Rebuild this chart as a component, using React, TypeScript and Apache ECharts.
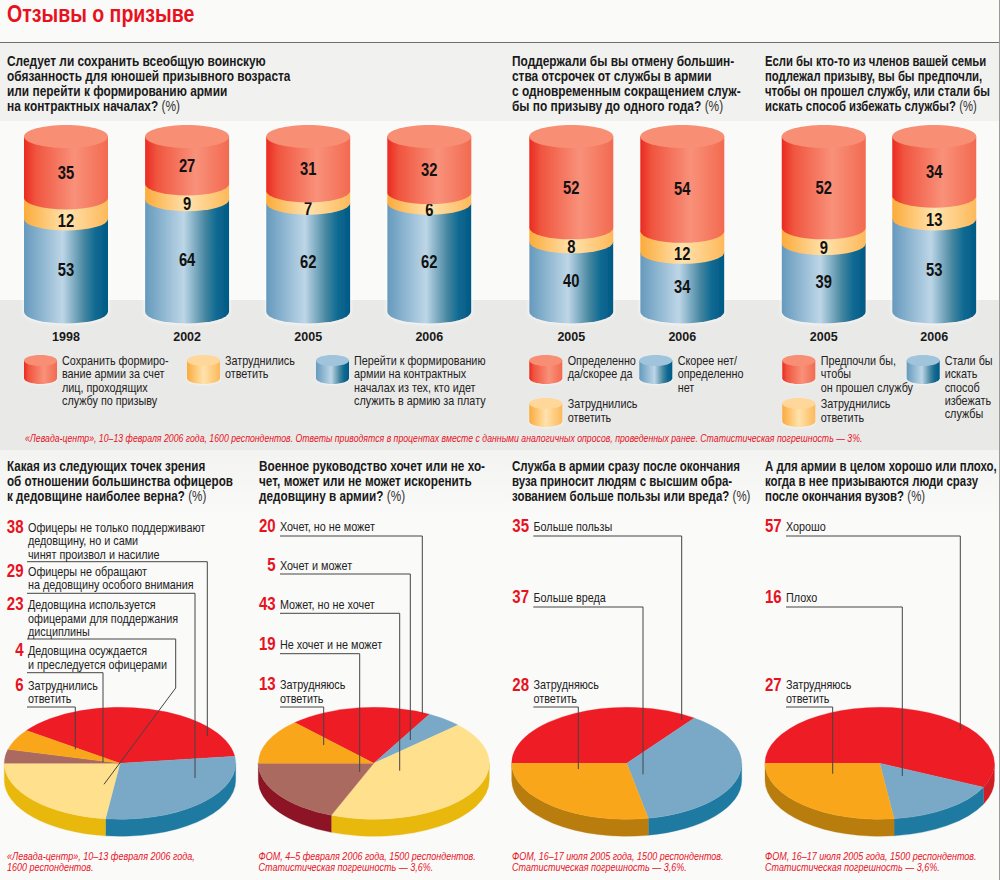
import React, { useEffect, useRef } from "react";
import * as echarts from "echarts";

// ---------- data ----------
const TITLE = "Отзывы о призыве";
const yearsA = ["1998", "2002", "2005", "2006"];
const yearsB = ["2005", "2006"];
const yearsC = ["2005", "2006"];
// [blue, orange, red] per year
const valuesA = [[53, 12, 35], [64, 9, 27], [62, 7, 31], [62, 6, 32]];
const valuesB = [[40, 8, 52], [34, 12, 54]];
const valuesC = [[39, 9, 52], [53, 13, 34]];

const pie1Values = [38, 29, 23, 4, 6];
const pie2Values = [20, 5, 43, 19, 13];
const pie3Values = [35, 37, 28];
const pie4Values = [57, 16, 27];

const pie1Labels = [
  ["Офицеры не только поддерживают", "дедовщину, но и сами", "чинят произвол и насилие"],
  ["Офицеры не обращают", "на дедовщину особого внимания"],
  ["Дедовщина используется", "офицерами для поддержания", "дисциплины"],
  ["Дедовщина осуждается", "и преследуется офицерами"],
  ["Затруднились", "ответить"],
];
const pie2Labels = [["Хочет, но не может"], ["Хочет и может"], ["Может, но не хочет"], ["Не хочет и не может"], ["Затрудняюсь", "ответить"]];
const pie3Labels = [["Больше пользы"], ["Больше вреда"], ["Затрудняюсь", "ответить"]];
const pie4Labels = [["Хорошо"], ["Плохо"], ["Затрудняюсь", "ответить"]];

const questionsTop = [
  ["Следует ли сохранить всеобщую воинскую", "обязанность для юношей призывного возраста", "или перейти к формированию армии", "на контрактных началах?"],
  ["Поддержали бы вы отмену большин-", "ства отсрочек от службы в армии", "с одновременным сокращением служ-", "бы по призыву до одного года?"],
  ["Если бы кто-то из членов вашей семьи", "подлежал призыву, вы бы предпочли,", "чтобы он прошел службу, или стали бы", "искать способ избежать службы?"],
];
const questionsBottom = [
  ["Какая из следующих точек зрения", "об отношении большинства офицеров", "к дедовщине наиболее верна?"],
  ["Военное руководство хочет или не хо-", "чет, может или не может искоренить", "дедовщину в армии?"],
  ["Служба в армии сразу после окончания", "вуза приносит людям с высшим обра-", "зованием больше пользы или вреда?"],
  ["А для армии в целом хорошо или плохо,", "когда в нее призываются люди сразу", "после окончания вузов?"],
];
const sourceTop = "«Левада-центр», 10–13 февраля 2006 года, 1600 респондентов. Ответы приводятся в процентах вместе с данными аналогичных опросов, проведенных ранее. Статистическая погрешность — 3%.";
const sourcesBottom = [
  ["«Левада-центр», 10–13 февраля 2006 года,", "1600 респондентов."],
  ["ФОМ, 4–5 февраля 2006 года, 1500 респондентов.", "Статистическая погрешность — 3,6%."],
  ["ФОМ, 16–17 июля 2005 года, 1500 респондентов.", "Статистическая погрешность — 3,6%."],
  ["ФОМ, 16–17 июля 2005 года, 1500 респондентов.", "Статистическая погрешность — 3,6%."],
];
const legendTexts = [
  { kind: "red", lines: ["Сохранить формиро-", "вание армии за счет", "лиц, проходящих", "службу по призыву"] },
  { kind: "orange", lines: ["Затруднились", "ответить"] },
  { kind: "blue", lines: ["Перейти к формированию", "армии на контрактных", "началах из тех, кто идет", "служить в армию за плату"] },
  { kind: "red", lines: ["Определенно", "да/скорее да"] },
  { kind: "blue", lines: ["Скорее нет/", "определенно", "нет"] },
  { kind: "orange", lines: ["Затруднились", "ответить"] },
  { kind: "red", lines: ["Предпочли бы,", "чтобы", "он прошел службу"] },
  { kind: "blue", lines: ["Стали бы", "искать", "способ", "избежать", "службы"] },
  { kind: "orange", lines: ["Затруднились", "ответить"] },
];

// ---------- layout & style (no values) ----------
const FONT = "'Liberation Sans',Arimo,Arial,sans-serif";
let measureCtx: CanvasRenderingContext2D | null = null;
function fit(sample: string, font: string, target: number) {
  if (!measureCtx) measureCtx = document.createElement("canvas").getContext("2d");
  measureCtx!.font = `${font} ${FONT}`;
  return target / measureCtx!.measureText(sample).width;
}
const topQuestionX = [7, 512, 765];
const topQuestionFit = [1, 1, 0.952];
const bottomQuestionX = [7, 259, 512, 765];
const bottomQuestionFit = [0.98, 0.99, 0.965, 0.96];
const legendPos = [
  [24, 355, 62, 360.7], [187, 355, 225, 360.7], [316, 355, 354, 360.7],
  [529.3, 355, 567.7, 360.7], [639.3, 355, 677.7, 360.7], [529.3, 398, 567.7, 404],
  [782.3, 355, 820.7, 360.7], [906.7, 355, 944.7, 360.7], [782.3, 398, 820.7, 404],
];
const pieLayouts = [
  { cx: 120, cy: 763.3, rx: 115.7, ry: 56, depth: 17, start: -144, colors: ["red", "blue", "yellow", "brown", "orange"],
    numX: 23.5, textX: 28, numY: [526.7, 570.7, 604, 650, 684.7], textY: [527.7, 571.3, 605, 651, 685.7],
    leaders: [[[27, 561.7], [207.3, 561.7], [207.3, 736]], [[27, 593.3], [195, 593.3], [195, 778]], [[27, 639], [175.7, 639], [175.7, 688], [104, 784.3]], [[27, 672.7], [103, 672.7], [103, 762.3]], [[27, 707], [75.3, 707], [75.3, 749.3]]] },
  { cx: 373.8, cy: 763.3, rx: 115.5, ry: 56, depth: 17, start: -133.2, colors: ["red", "blue", "yellow", "brown", "orange"],
    numX: 275.7, textX: 280, numY: [526, 565, 604, 644, 684], textY: [527, 566, 605, 645, 685],
    leaders: [[[280, 536], [422.3, 536], [422.3, 714]], [[280, 574], [410.3, 574], [410.3, 740]], [[280, 613.3], [399.7, 613.3], [399.7, 770.7]], [[280, 653.7], [359.7, 653.7], [359.7, 772]], [[280, 707], [323.7, 707], [323.7, 745]]] },
  { cx: 626.7, cy: 763.3, rx: 115, ry: 56, depth: 17, start: 180, colors: ["red", "blue", "orange"],
    numX: 529, textX: 533.5, numY: [526, 597, 685], textY: [527, 598, 685],
    leaders: [[[533.3, 536], [681.7, 536], [681.7, 720]], [[533.3, 607], [643, 607], [643, 774.3]], [[533.3, 707], [578.3, 707], [578.3, 769]]] },
  { cx: 879.7, cy: 763.3, rx: 114.7, ry: 56, depth: 17, start: 180, colors: ["red", "blue", "orange"],
    numX: 781.7, textX: 786, numY: [526, 597, 685], textY: [527, 598, 685],
    leaders: [[[786, 536], [960.3, 536], [960.3, 730]], [[786, 607], [902.3, 607], [902.3, 776]], [[786, 707], [832.7, 707], [832.7, 773.7]]] },
];
const PIE_TOP: any = { red: "#ee1c25", blue: "#7aa9c8", yellow: "#fee08d", brown: "#ab6a5f", orange: "#faa61a" };
const PIE_SIDE: any = { red: "#cf1f25", blue: "#1e7aa0", yellow: "#e8b80c", brown: "#8c1424", orange: "#b97d0d" };
const linear = (stops: [number, string][]) => ({ type: "linear", x: 0, y: 0, x2: 1, y2: 0, colorStops: stops.map(([offset, color]) => ({ offset, color })) });
const CYL: any = {
  red: linear([[0, "#ea2a22"], [0.14, "#f0553f"], [0.6, "#f9917a"], [1, "#f26a50"]]),
  orange: linear([[0, "#fbab3b"], [0.5, "#ffe2ad"], [1, "#fdb95a"]]),
  blue: linear([[0, "#659abd"], [0.46, "#bdd6e7"], [0.72, "#44859f"], [0.85, "#0f6a93"], [1, "#005a85"]]),
};
const CAP: any = { red: "#f88f74", orange: "#ffd79a", blue: "#9fc4dc" };
const SEG = ["blue", "orange", "red"];
const LABEL_SHIFT = [4, 11.5, 5];
const CYL_RX = 42, CYL_RY = 11.5;

function cylinderItem(params: any, api: any) {
  const cat = api.value(0), from = api.value(1), to = api.value(2), seg = api.value(3);
  const [x, yBot] = api.coord([cat, from]);
  const [, yTop] = api.coord([cat, to]);
  const kind = SEG[seg];
  const l = x - CYL_RX, r = x + CYL_RX;
  const halo = seg === 0 ? { shadowBlur: 4, shadowColor: "rgba(255,255,255,0.9)" } : {};
  const children: any[] = [{
    type: "path",
    shape: { pathData: `M${l} ${yTop}L${l} ${yBot}A${CYL_RX} ${CYL_RY} 0 0 0 ${r} ${yBot}L${r} ${yTop}Z` },
    style: { fill: CYL[kind], ...halo },
  }];
  if (seg === 2) {
    children.push({ type: "ellipse", shape: { cx: x, cy: yTop, rx: CYL_RX, ry: CYL_RY }, style: { fill: CAP.red } });
  }
  children.push({
    type: "text", x, y: (yTop + yBot) / 2 + LABEL_SHIFT[seg], scaleX: 0.82,
    style: { text: String(to - from), fontFamily: FONT, fontWeight: "bold", fontSize: 18, fill: "#111", align: "center", verticalAlign: "middle" },
  });
  return { type: "group", children };
}

function cylinderRows(values: number[][]) {
  const rows: number[][] = [];
  values.forEach((stack, i) => {
    let acc = 0;
    stack.forEach((v, s) => { rows.push([i, acc, acc + v, s]); acc += v; });
  });
  return rows;
}

function pieRows(values: number[]) {
  let acc = 0;
  return values.map((v) => { const row = [v, acc, acc + v]; acc += v; return row; });
}

function makePieItem(layout: any) {
  const { cx, cy, rx, ry, depth, start, colors } = layout;
  const px = (deg: number) => cx + rx * Math.cos((deg * Math.PI) / 180);
  const py = (deg: number) => cy + ry * Math.sin((deg * Math.PI) / 180);
  return (params: any, api: any) => {
    const a = start + (api.value(1) / 100) * 360;
    const b = start + (api.value(2) / 100) * 360;
    const name = colors[params.dataIndex];
    const children: any[] = [];
    [0, 360].forEach((k) => {
      const s = Math.max(a, k), e = Math.min(b, k + 180);
      if (e > s) {
        children.push({
          type: "path",
          shape: { pathData: `M${px(s)} ${py(s)}A${rx} ${ry} 0 0 1 ${px(e)} ${py(e)}L${px(e)} ${py(e) + depth}A${rx} ${ry} 0 0 0 ${px(s)} ${py(s) + depth}Z` },
          style: { fill: PIE_SIDE[name], stroke: PIE_SIDE[name], lineWidth: 0.3 },
        });
      }
    });
    children.push({
      type: "path",
      shape: { pathData: `M${cx} ${cy}L${px(a)} ${py(a)}A${rx} ${ry} 0 ${b - a > 180 ? 1 : 0} 1 ${px(b)} ${py(b)}Z` },
      style: { fill: PIE_TOP[name], stroke: PIE_TOP[name], lineWidth: 0.3 },
    });
    return { type: "group", children };
  };
}

function line(x: number, y: number, text: string, o: any = {}) {
  const { scaleX = 1, z = 6, ...style } = o;
  return {
    type: "text", x, y, scaleX, z,
    style: { text, fontFamily: FONT, fontSize: 13, fill: "#1c1c1c", align: "left", verticalAlign: "middle", ...style },
  };
}

function question(x: number, y: number, lines: string[], sx: number) {
  return lines.map((t, i) => {
    const last = i === lines.length - 1;
    return line(x, y + i * 15, last ? `{b|${t}} {n|(%)}` : t, {
      scaleX: sx, fontWeight: "bold", fontSize: 14, fill: "#1a1a1a",
      rich: last ? { b: { fontFamily: FONT, fontWeight: "bold", fontSize: 14, fill: "#1a1a1a" }, n: { fontFamily: FONT, fontSize: 14, fill: "#333" } } : undefined,
    });
  });
}

function swatch(x: number, y: number, kind: string) {
  const w = 33, h = 29, ry = 5.5;
  const rx = w / 2;
  return [
    { type: "ellipse", z: 3, shape: { cx: x + rx, cy: y + h - ry, rx, ry }, style: { fill: CYL[kind], shadowBlur: 3, shadowColor: "rgba(255,255,255,0.9)" } },
    { type: "rect", z: 3, shape: { x, y: y + ry, width: w, height: h - 2 * ry }, style: { fill: CYL[kind] } },
    { type: "ellipse", z: 3, shape: { cx: x + rx, cy: y + ry, rx, ry }, style: { fill: CAP[kind] } },
  ];
}

function buildGraphic() {
  const sxTitle = fit(TITLE, "bold 24px", 187.5);
  const sxQ = fit("обязанность для юношей призывного возраста", "bold 14px", 283.5);
  const sxL = fit("Перейти к формированию", "13px", 131.7);
  const sxS = fit(sourceTop, "italic 11px", 838);
  const sxF = fit(sourcesBottom[0][0], "italic 11px", 188);
  const sxN = fit("38", "bold 18px", 16.7);
  const els: any[] = [
    { type: "rect", z: 0, shape: { x: 0, y: 0, width: 1000, height: 880 }, style: { fill: "#fafaf9" } },
    { type: "rect", z: 0, shape: { x: 0, y: 43, width: 1000, height: 78 }, style: { fill: "#f1f1ef" } },
    { type: "rect", z: 0, shape: { x: 0, y: 300, width: 1000, height: 150 }, style: { fill: "#e9e9e7" } },
    { type: "rect", z: 0, shape: { x: 0, y: 450, width: 1000, height: 70 }, style: { fill: { type: "linear", x: 0, y: 0, x2: 0, y2: 1, colorStops: [{ offset: 0, color: "#f3f3f1" }, { offset: 1, color: "#fafaf9" }] } } },
    { type: "line", z: 1, shape: { x1: 0, y1: 42.5, x2: 1000, y2: 42.5 }, style: { stroke: "#6e6e6e", lineWidth: 1 } },
    { type: "line", z: 1, shape: { x1: 999.5, y1: 0, x2: 999.5, y2: 880 }, style: { stroke: "#9a9a9a", lineWidth: 1 } },
    line(7, 13.5, TITLE, { scaleX: sxTitle, fontWeight: "bold", fontSize: 24, fill: "#e8121e" }),
  ];
  topQuestionX.forEach((x, i) => els.push(...question(x, 61, questionsTop[i], sxQ * topQuestionFit[i])));
  bottomQuestionX.forEach((x, i) => els.push(...question(x, 466, questionsBottom[i], sxQ * bottomQuestionFit[i])));
  legendTexts.forEach((entry, i) => {
    const [sx, sy, tx, ty] = legendPos[i];
    els.push(...swatch(sx, sy, entry.kind));
    entry.lines.forEach((t, j) => els.push(line(tx, ty + j * 13.3, t, { scaleX: sxL, fill: "#222" })));
  });
  els.push(line(25, 438, sourceTop, { scaleX: sxS, fontStyle: "italic", fontSize: 11, fill: "#e8121e" }));
  const allValues = [pie1Values, pie2Values, pie3Values, pie4Values];
  const allLabels = [pie1Labels, pie2Labels, pie3Labels, pie4Labels];
  const srcX = [7, 258.5, 512, 765];
  pieLayouts.forEach((p, i) => {
    allValues[i].forEach((v, k) => {
      els.push(line(p.numX, p.numY[k], String(v), { scaleX: sxN, align: "right", fontWeight: "bold", fontSize: 18, fill: "#e8121e" }));
      allLabels[i][k].forEach((t, j) => els.push(line(p.textX, p.textY[k] + j * 13.4, t, { scaleX: sxL, fill: "#222" })));
      els.push({ type: "polyline", z: 5, shape: { points: p.leaders[k] }, style: { stroke: "#444", lineWidth: 1, fill: "none" } });
    });
    sourcesBottom[i].forEach((t, j) => els.push(line(srcX[i], 856 + j * 11, t, { scaleX: sxF, fontStyle: "italic", fontSize: 11, fill: "#e8121e" })));
  });
  return { elements: els };
}

function buildOption() {
  const grids = [
    { left: 5.45, width: 484.4, top: 136.5, height: 175.5 },
    { left: 515.8, width: 222, top: 136.5, height: 175.5 },
    { left: 768.5, width: 221, top: 136.5, height: 175.5 },
  ];
  const cats = [yearsA, yearsB, yearsC];
  const vals = [valuesA, valuesB, valuesC];
  return {
    animation: false,
    graphic: buildGraphic(),
    grid: grids,
    xAxis: cats.map((data, i) => ({
      type: "category", gridIndex: i, data,
      axisLine: { show: false }, axisTick: { show: false },
      axisLabel: { margin: 18.5, fontFamily: FONT, fontWeight: "bold", fontSize: 12.5, color: "#1a1a1a" },
    })),
    yAxis: cats.map((_, i) => ({ type: "value", gridIndex: i, min: 0, max: 100, show: false })),
    series: [
      ...vals.map((v, i) => ({
        type: "custom", xAxisIndex: i, yAxisIndex: i,
        encode: { x: 0, y: [1, 2] },
        data: cylinderRows(v), renderItem: cylinderItem, clip: false,
      })),
      ...[pie1Values, pie2Values, pie3Values, pie4Values].map((v, i) => ({
        type: "custom", coordinateSystem: "none",
        data: pieRows(v), renderItem: makePieItem(pieLayouts[i]),
      })),
    ],
  };
}

export default function App() {
  const ref = useRef<HTMLDivElement>(null);
  useEffect(() => {
    const chart = echarts.init(ref.current!, undefined, { renderer: "svg" });
    chart.setOption(buildOption() as any);
    return () => chart.dispose();
  }, []);
  return <div ref={ref} style={{ position: "absolute", left: 0, top: 0, width: 1000, height: 880 }} />;
}
